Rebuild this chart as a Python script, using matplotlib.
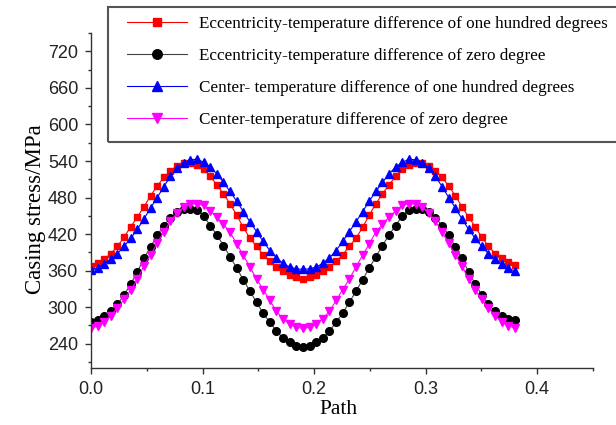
import numpy as np
import matplotlib
matplotlib.use('Agg')
import matplotlib.pyplot as plt
import matplotlib.patches as patches
from matplotlib.ticker import MultipleLocator


# path positions along the casing wall (65 samples, 0 .. 0.38)
path = np.linspace(0, 0.38, 65)

ecc_100 = [367, 372, 379, 388, 400, 415, 432, 448, 465, 483,
           499, 513, 524, 532, 536, 537, 534, 527, 515, 501,
           486, 470, 451, 431, 413, 400, 386, 375, 366, 359,
           353, 349, 347,
           349, 353, 359, 366, 375, 386, 400, 413, 431, 451,
           470, 486, 501, 515, 527, 534, 537, 536, 532, 524,
           513, 499, 483, 465, 448, 432, 415, 400, 388, 380,
           374, 369]

ecc_0 = [276, 279, 285, 293, 305, 320, 338, 358, 380, 399,
         418, 434, 447, 456, 461, 462, 460, 450, 434, 419,
         401, 383, 364, 345, 326, 308, 290, 275, 261, 249,
         242, 237, 235,
         237, 242, 249, 261, 275, 290, 308, 326, 345, 364,
         383, 401, 419, 434, 450, 460, 462, 461, 456, 447,
         434, 418, 399, 380, 358, 338, 320, 305, 293, 285,
         281, 279]

center_100 = [361, 365, 371, 379, 388, 400, 413, 428, 445, 463,
              480, 498, 515, 528, 537, 542, 543, 538, 530, 519,
              505, 490, 474, 457, 440, 424, 408, 393, 381, 372,
              366, 363, 362,
              363, 366, 372, 381, 393, 408, 424, 440, 457, 474,
              490, 505, 519, 530, 538, 543, 542, 537, 528, 515,
              498, 480, 463, 445, 428, 413, 400, 388, 379, 371,
              364, 359]

center_0 = [265, 269, 276, 286, 299, 313, 328, 346, 368, 386,
            405, 424, 441, 455, 464, 469, 470, 467, 458, 448,
            436, 423, 404, 385, 366, 346, 329, 311, 293, 281,
            272, 267, 265,
            267, 272, 281, 293, 311, 329, 346, 366, 385, 404,
            423, 436, 448, 458, 467, 470, 469, 464, 455, 441,
            424, 405, 386, 368, 346, 328, 313, 299, 286, 276,
            269, 266]

labels = ['Eccentricity-temperature difference of one hundred degrees',
          'Eccentricity-temperature difference of zero degree',
          'Center- temperature difference of one hundred degrees',
          'Center-temperature difference of zero degree']

serif = ['Liberation Serif', 'DejaVu Serif']
sans = ['Liberation Sans', 'DejaVu Sans']

fig = plt.figure(figsize=(6.16, 4.25), dpi=100)
ax = fig.add_axes([0.1477, 0.134, 0.815, 0.788])

styles = [
    (ecc_100, '#ff0000', 's', 5.0),
    (ecc_0, '#000000', 'o', 5.5),
    (center_100, '#0000ff', '^', 6.0),
    (center_0, '#ff00ff', 'v', 6.0),
]
handles = []
for (vals, col, mk, ms), lab in zip(styles, labels):
    line_col = '#444444' if col == '#000000' else col
    h, = ax.plot(path, vals, color=line_col, lw=0.8, marker=mk, ms=ms,
                 mfc=col, mec=col, label=lab)
    handles.append(h)

ax.set_xlim(0, 0.45)
ax.set_ylim(200, 750)
ax.xaxis.set_major_locator(MultipleLocator(0.1))
ax.xaxis.set_minor_locator(MultipleLocator(0.05))
ax.yaxis.set_major_locator(MultipleLocator(60))
ax.yaxis.set_minor_locator(MultipleLocator(30))
ax.set_yticks([240, 300, 360, 420, 480, 540, 600, 660, 720])

for side in ['top', 'right']:
    ax.spines[side].set_visible(False)
for side in ['left', 'bottom']:
    ax.spines[side].set_color('#333333')
    ax.spines[side].set_linewidth(1.0)

ax.tick_params(which='major', direction='out', length=4.3, width=1.0,
               color='#333333', pad=5, labelsize=13, labelcolor='#222222')
ax.tick_params(which='minor', direction='out', length=2.3, width=1.0,
               color='#333333')
for t in ax.get_xticklabels() + ax.get_yticklabels():
    t.set_family(sans)

ax.set_xlabel('Path', family=serif, fontsize=15.5)
ax.set_ylabel('Casing stress/MPa', family=serif, fontsize=16.5)
ax.xaxis.set_label_coords(0.494, -0.095)
ax.yaxis.set_label_coords(-0.09, 0.475)

# legend box sticks out past the right edge of the figure
box = patches.Rectangle((108 / 616, 1 - 142 / 425), 0.9, 135 / 425,
                        transform=fig.transFigure, fill=False,
                        edgecolor='#555555', linewidth=1.5, clip_on=False)
fig.patches.append(box)
fig.legend(handles=handles, loc='upper left',
           bbox_to_anchor=(127 / 616, 1 - 16 / 425), frameon=False,
           borderpad=0, borderaxespad=0, handlelength=3.5,
           handletextpad=0.7, labelspacing=0.93, markerscale=1.25,
           prop={'family': serif, 'size': 12.3})

plt.savefig('out.png', dpi=100)
